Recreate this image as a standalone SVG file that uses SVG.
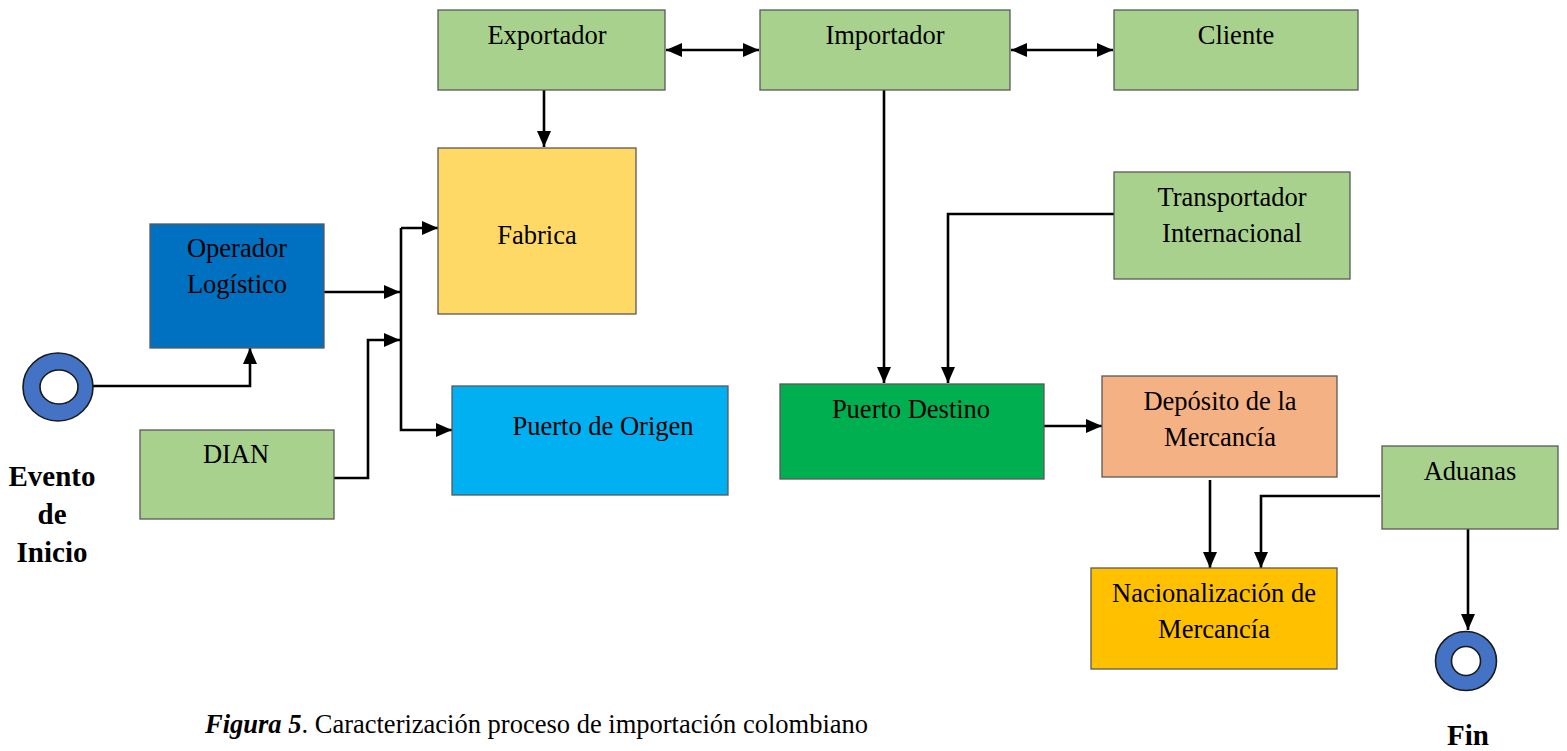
<svg xmlns="http://www.w3.org/2000/svg" width="1567" height="751" viewBox="0 0 1567 751">
  <defs>
    <marker id="arrow" viewBox="0 0 16 14" refX="16" refY="7" markerWidth="16" markerHeight="14" markerUnits="userSpaceOnUse" orient="auto-start-reverse">
      <path d="M0,0 L16,7 L0,14 z" fill="#000"/>
    </marker>
    <style>
      .box { stroke: #595959; stroke-width: 1.3; }
      .actor { fill: #A9D18E; }
      .lbl { font-family: "Liberation Serif", "Times New Roman", serif; font-size: 26.5px; fill: #000; text-anchor: middle; }
      .big { font-family: "Liberation Serif", "Times New Roman", serif; font-size: 29px; font-weight: bold; fill: #000; text-anchor: middle; }
      .cap { font-family: "Liberation Serif", "Times New Roman", serif; font-size: 26.5px; fill: #000; }
      .wire { fill: none; stroke: #000; stroke-width: 2.6; }
      .ring { fill: #4472C4; stroke: #1a1a1a; stroke-width: 1.6; }
      .hole { fill: #fff; stroke: #1a1a1a; stroke-width: 1.6; }
    </style>
  </defs>

  <rect width="1567" height="751" fill="#fff"/>

  <!-- connectors -->
  <g id="connectors">
    <path class="wire" d="M666,50 H759" marker-start="url(#arrow)" marker-end="url(#arrow)"/>
    <path class="wire" d="M1011,50 H1113" marker-start="url(#arrow)" marker-end="url(#arrow)"/>
    <path class="wire" d="M544,90 V147" marker-end="url(#arrow)"/>
    <path class="wire" d="M884,90 V383" marker-end="url(#arrow)"/>
    <path class="wire" d="M1114,214 H948 V383" marker-end="url(#arrow)"/>
    <path class="wire" d="M324,292 H400" marker-end="url(#arrow)"/>
    <path class="wire" d="M334,478 H368 V340 H400" marker-end="url(#arrow)"/>
    <path class="wire" d="M401,228 H438" marker-end="url(#arrow)"/>
    <path class="wire" d="M401,228 V430 H452" marker-end="url(#arrow)"/>
    <path class="wire" d="M93,386 H250 V348" marker-end="url(#arrow)"/>
    <path class="wire" d="M1044,426 H1102" marker-end="url(#arrow)"/>
    <path class="wire" d="M1210,480 V568" marker-end="url(#arrow)"/>
    <path class="wire" d="M1380,496 H1261 V568" marker-end="url(#arrow)"/>
    <path class="wire" d="M1468,529 V630" marker-end="url(#arrow)"/>
  </g>

  <!-- start event -->
  <g id="inicio">
    <ellipse class="ring" cx="58" cy="387" rx="35" ry="34"/>
    <ellipse class="hole" cx="59" cy="387" rx="19" ry="17"/>
    <text class="big" x="52" y="486">Evento</text>
    <text class="big" x="52" y="524">de</text>
    <text class="big" x="52" y="562">Inicio</text>
  </g>

  <g id="exportador">
    <rect class="box actor" x="438" y="10" width="227" height="80"/>
    <text class="lbl" x="547" y="44">Exportador</text>
  </g>

  <g id="importador">
    <rect class="box actor" x="760" y="10" width="250" height="80"/>
    <text class="lbl" x="885" y="44">Importador</text>
  </g>

  <g id="cliente">
    <rect class="box actor" x="1114" y="10" width="244" height="80"/>
    <text class="lbl" x="1236" y="44">Cliente</text>
  </g>

  <g id="fabrica">
    <rect class="box" x="438" y="148" width="198" height="166" fill="#FFD966"/>
    <text class="lbl" x="537" y="244">Fabrica</text>
  </g>

  <g id="operador">
    <rect class="box" x="150" y="224" width="174" height="124" fill="#0070C0"/>
    <text class="lbl" x="237" y="257">Operador</text>
    <text class="lbl" x="237" y="293">Logístico</text>
  </g>

  <g id="dian">
    <rect class="box actor" x="140" y="430" width="194" height="89"/>
    <text class="lbl" x="236" y="463">DIAN</text>
  </g>

  <g id="puerto-origen">
    <rect class="box" x="452" y="386" width="276" height="109" fill="#00B0F0"/>
    <text class="lbl" x="603" y="435">Puerto de Origen</text>
  </g>

  <g id="transportador">
    <rect class="box actor" x="1114" y="172" width="236" height="107"/>
    <text class="lbl" x="1232" y="206">Transportador</text>
    <text class="lbl" x="1232" y="242">Internacional</text>
  </g>

  <g id="puerto-destino">
    <rect class="box" x="780" y="384" width="264" height="95" fill="#00B050"/>
    <text class="lbl" x="911" y="418">Puerto Destino</text>
  </g>

  <g id="deposito">
    <rect class="box" x="1102" y="376" width="235" height="101" fill="#F4B183"/>
    <text class="lbl" x="1220" y="410">Depósito de la</text>
    <text class="lbl" x="1220" y="446">Mercancía</text>
  </g>

  <g id="aduanas">
    <rect class="box actor" x="1382" y="446" width="176" height="83"/>
    <text class="lbl" x="1470" y="480">Aduanas</text>
  </g>

  <g id="nacionalizacion">
    <rect class="box" x="1091" y="568" width="246" height="101" fill="#FFC000"/>
    <text class="lbl" x="1214" y="602">Nacionalización de</text>
    <text class="lbl" x="1214" y="638">Mercancía</text>
  </g>

  <!-- end event -->
  <g id="fin">
    <ellipse class="ring" cx="1466" cy="661" rx="30.5" ry="29.5"/>
    <circle class="hole" cx="1466" cy="661" r="14.5"/>
    <text class="big" x="1468" y="745">Fin</text>
  </g>

  <text class="cap" x="205" y="733"><tspan font-weight="bold" font-style="italic">Figura 5</tspan>. Caracterización proceso de importación colombiano</text>
</svg>
